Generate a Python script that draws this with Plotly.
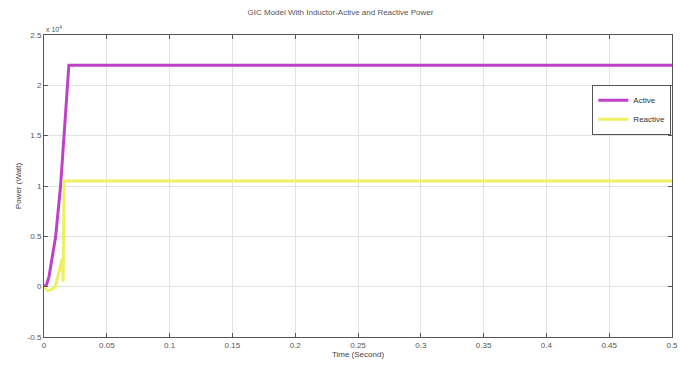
import plotly.graph_objects as go

# Data (time in seconds, power in watts)
t_active = [0, 0.002, 0.004, 0.0093, 0.0132, 0.0159, 0.0198, 0.021, 0.5]
p_active = [0, 200, 1000, 5000, 10000, 15000, 22000, 22000, 22000]

t_reactive = [0, 0.003, 0.006, 0.009, 0.012, 0.0145, 0.0152, 0.016, 0.0175, 0.5]
p_reactive = [0, -400, -300, 0, 1500, 2800, 500, 10500, 10500, 10500]

x_ticks = [0, 0.05, 0.1, 0.15, 0.2, 0.25, 0.3, 0.35, 0.4, 0.45, 0.5]
x_ticktext = ["0", "0.05", "0.1", "0.15", "0.2", "0.25", "0.3", "0.35", "0.4", "0.45", "0.5"]
y_ticks = [-5000, 0, 5000, 10000, 15000, 20000, 25000]
y_ticktext = ["-0.5", "0", "0.5", "1", "1.5", "2", "2.5"]

fig = go.Figure()
fig.add_trace(go.Scatter(x=t_active, y=p_active, mode="lines", name="Active",
                         line=dict(color="#c040c8", width=3)))
fig.add_trace(go.Scatter(x=t_reactive, y=p_reactive, mode="lines", name="Reactive",
                         line=dict(color="#eef060", width=3)))

axis_common = dict(showline=True, linecolor="#555555", linewidth=1, mirror="ticks",
                   ticks="inside", ticklen=4, tickcolor="#555555",
                   showgrid=True, gridcolor="#e2e2e2", gridwidth=1, zeroline=False,
                   ticklabeloverflow="allow",
                   tickfont=dict(family="Liberation Sans", size=8, color="#555555"))

fig.update_layout(
    width=681, height=370,
    margin=dict(l=44, r=3, t=35, b=33),
    paper_bgcolor="white", plot_bgcolor="white",
    title=dict(text="GIC Model With Inductor-Active and Reactive Power",
               x=0.5, xanchor="center", y=0.975, yanchor="top",
               font=dict(family="Liberation Sans", size=8, color="#555555")),
    xaxis=dict(range=[0, 0.5], tickvals=x_ticks, ticktext=x_ticktext,
               title=dict(text="Time (Second)", standoff=2,
                          font=dict(family="Liberation Sans", size=8, color="#444444")),
               **axis_common),
    yaxis=dict(range=[-5000, 25000], tickvals=y_ticks, ticktext=y_ticktext,
               title=dict(text="Power (Watt)", standoff=4,
                          font=dict(family="Liberation Sans", size=8, color="#444444")),
               **axis_common),
    legend=dict(x=0.999, y=0.835, xanchor="right", yanchor="top",
                bgcolor="white", bordercolor="#555555", borderwidth=1,
                font=dict(family="Liberation Sans", size=8, color="#333333"),
                itemwidth=30, tracegroupgap=14),
    showlegend=True,
)

fig.add_annotation(text="x 10<sup>4</sup>", xref="paper", yref="paper", x=0.0, y=1.0,
                   xanchor="left", yanchor="bottom", showarrow=False,
                   font=dict(family="Liberation Sans", size=7, color="#555555"))

fig.write_html("out.html")
